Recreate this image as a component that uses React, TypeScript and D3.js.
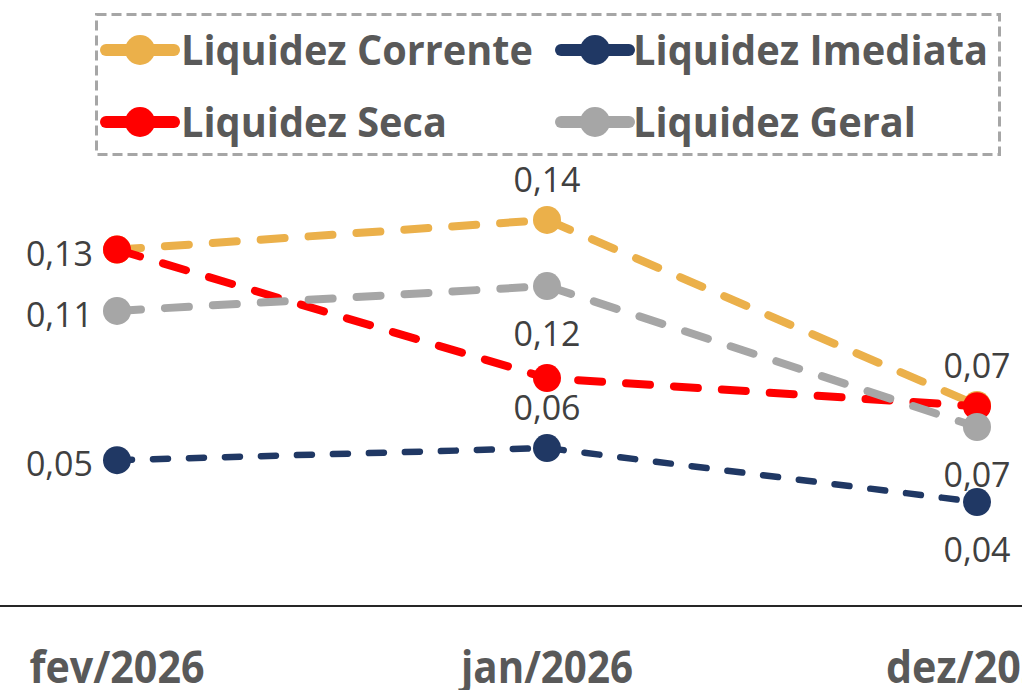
import React from "react";
import * as d3 from "d3";

const categories = ["fev/2026", "jan/2026", "dez/2026"];
const seriesNames = ["Liquidez Corrente", "Liquidez Imediata", "Liquidez Seca", "Liquidez Geral"];
const corrente = [0.132, 0.143, 0.0744];
const imediata = [0.054, 0.0585, 0.0385];
const seca = [0.132, 0.0844, 0.074];
const geral = [0.1093, 0.1185, 0.0663];
// label text shown per point ("" = hidden)
const correnteLabels = ["", "0,14", ""];
const imediataLabels = ["0,05", "0,06", "0,04"];
const secaLabels = ["0,13", "", "0,07"];
const geralLabels = ["0,11", "0,12", "0,07"];

const W = 1022;
const H = 690;

const FONT = "'Open Sans', 'Noto Sans', sans-serif";

const styles = [
  { color: "#EBB04A", width: 8, dash: "24 24", r: 14 },
  { color: "#203864", width: 6.5, dash: "15 21", r: 14 },
  { color: "#FF0000", width: 8, dash: "24 24", r: 14 },
  { color: "#A6A6A6", width: 8, dash: "24 24", r: 14 },
];
const labelPlacement = [
  ["left", "above", "above"],
  ["left", "above", "below"],
  ["left", "above", "above"],
  ["left", "below", "below"],
];

const legendLayout = [
  { x: 100, y: 50, tx: 181, tl: 352 },
  { x: 555, y: 50, tx: 633, tl: 355 },
  { x: 100, y: 122, tx: 181, tl: 266 },
  { x: 555, y: 122, tx: 633, tl: 283 },
];
const catTextLength = [175, 172, 182];
const catShift = [0, 0, 0];

export default function App() {
  const x = d3.scalePoint<string>().domain(categories).range([117, 977]);
  const y = d3.scaleLinear().domain([0, 0.2]).range([606, 66]);
  const data = [corrente, imediata, seca, geral];
  const labels = [correnteLabels, imediataLabels, secaLabels, geralLabels];
  const line = d3
    .line<number>()
    .x((_, i) => x(categories[i]) as number)
    .y((d) => y(d));

  return (
    <svg
      width={W}
      height={H}
      style={{ position: "absolute", left: 0, top: 0, background: "#fff" }}
    >
      <rect x={0} y={0} width={W} height={H} fill="#fff" />
      {/* axis line */}
      <line x1={0} x2={W} y1={y(0)} y2={y(0)} stroke="#262626" strokeWidth={2} />
      {categories.map((c, i) => (
        <text
          key={c}
          x={(x(c) as number) + catShift[i]}
          y={683}
          textAnchor="middle"
          fontFamily={FONT}
          fontWeight="bold"
          fontSize={44}
          fill="#595959"
          textLength={catTextLength[i]}
          lengthAdjust="spacingAndGlyphs"
        >
          {c}
        </text>
      ))}
      {/* series */}
      {data.map((vals, si) => (
        <g key={si}>
          <path
            d={line(vals) || ""}
            fill="none"
            stroke={styles[si].color}
            strokeWidth={styles[si].width}
            strokeDasharray={styles[si].dash}
            strokeLinecap="round"
            strokeLinejoin="round"
          />
          {vals.map((v, i) => (
            <circle
              key={i}
              cx={x(categories[i])}
              cy={y(v)}
              r={styles[si].r}
              fill={styles[si].color}
            />
          ))}
        </g>
      ))}
      {/* data labels */}
      {data.map((vals, si) =>
        vals.map((v, i) => {
          const t = labels[si][i];
          if (!t) return null;
          const px = x(categories[i]) as number;
          const py = y(v);
          const p = labelPlacement[si][i];
          let tx = px;
          let ty = py;
          let anchor = "middle";
          if (p === "left") {
            tx = px - 24;
            ty = py + 16;
            anchor = "end";
          } else if (p === "above") {
            ty = py - 28;
          } else {
            ty = py + 60;
          }
          return (
            <text
              key={`${si}-${i}`}
              x={tx}
              y={ty}
              textAnchor={anchor}
              fontFamily={FONT}
              fontSize={34}
              fill="#404040"
            >
              {t}
            </text>
          );
        })
      )}
      {/* legend */}
      <rect
        x={96.5}
        y={14.5}
        width={903}
        height={140}
        fill="none"
        stroke="#A6A6A6"
        strokeWidth={3}
        strokeDasharray="10 5"
      />
      {seriesNames.map((n, i) => {
        const L = legendLayout[i];
        return (
          <g key={n}>
            <line
              x1={L.x + 6}
              x2={L.x + 74}
              y1={L.y}
              y2={L.y}
              stroke={styles[i].color}
              strokeWidth={12}
              strokeLinecap="round"
            />
            <circle cx={L.x + 40} cy={L.y} r={15} fill={styles[i].color} />
            <text
              x={L.tx}
              y={L.y + 15}
              fontFamily={FONT}
              fontWeight="bold"
              fontSize={42}
              fill="#595959"
              textLength={L.tl}
              lengthAdjust="spacingAndGlyphs"
            >
              {n}
            </text>
          </g>
        );
      })}
    </svg>
  );
}
